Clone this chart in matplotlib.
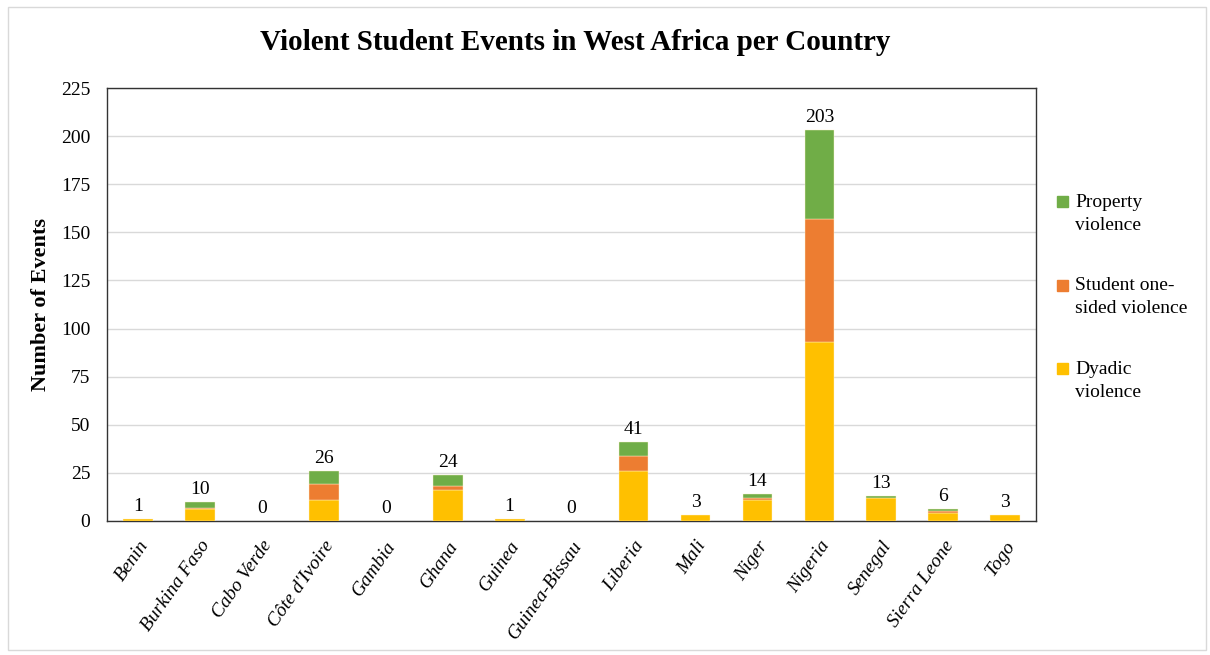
import matplotlib.pyplot as plt
from matplotlib.patches import Rectangle
import numpy as np

countries = ['Benin', 'Burkina Faso', 'Cabo Verde', "Côte d'Ivoire", 'Gambia', 'Ghana',
             'Guinea', 'Guinea-Bissau', 'Liberia', 'Mali', 'Niger', 'Nigeria',
             'Senegal', 'Sierra Leone', 'Togo']
dyadic = [1, 6, 0, 11, 0, 16, 1, 0, 26, 3, 11, 93, 12, 4, 3]
one_sided = [0, 1, 0, 8, 0, 2, 0, 0, 8, 0, 1, 64, 0, 1, 0]
property_v = [0, 3, 0, 7, 0, 6, 0, 0, 7, 0, 2, 46, 1, 1, 0]

series = [
    ('Dyadic\nviolence', dyadic, '#FFC000'),
    ('Student one-\nsided violence', one_sided, '#ED7D31'),
    ('Property\nviolence', property_v, '#70AD47'),
]

plt.rcParams['font.family'] = ['Liberation Serif', 'DejaVu Serif']

fig = plt.figure(figsize=(12.1, 6.55), dpi=100)
ax = fig.add_axes([0.0884, 0.2046, 0.768, 0.661])

x = np.arange(len(countries))
bottom = np.zeros(len(countries))
handles = []
for label, vals, color in series:
    vals = np.array(vals)
    b = ax.bar(x, vals, width=0.48, bottom=bottom, color=color, label=label,
               edgecolor='#FFF2CC', linewidth=np.where(vals > 0, 0.3, 0), zorder=3)
    handles.append(b)
    bottom += vals

totals = bottom.astype(int)
ax.bar_label(handles[-1], labels=[str(t) for t in totals], padding=3, fontsize=14)

ax.set_xlim(-0.5, len(countries) - 0.5)
ax.set_ylim(0, 225)
ax.set_yticks(np.arange(0, 226, 25))
ax.set_xticks(x)
ax.set_xticklabels(countries, rotation=55, ha='right', rotation_mode='anchor',
                   fontstyle='italic', fontsize=14)
ax.tick_params(axis='both', length=0, labelsize=14)
ax.tick_params(axis='y', pad=12)
ax.tick_params(axis='x', pad=12)
ax.grid(axis='y', color='#D9D9D9', linewidth=1, zorder=0)
for s in ax.spines.values():
    s.set_color('#333333')
    s.set_linewidth(1)

ax.set_ylabel('Number of Events', fontsize=16, fontweight='bold', labelpad=7)
fig.suptitle('Violent Student Events in West Africa per Country', x=0.475, y=0.955,
             fontsize=21, fontweight='bold')

# legend drawn by hand so the square sits by the first text line
for i, (label, vals, color) in enumerate(series[::-1]):
    ytop = 201 + i * 83.5
    fig.patches.append(Rectangle((1057 / 1210, 1 - (ytop + 6) / 655), 11 / 1210, 11 / 655,
                                 transform=fig.transFigure, color=color))
    fig.text(1075 / 1210, 1 - (ytop - 7) / 655, label, fontsize=14, va='top', ha='left',
             linespacing=1.45)

fig.patches.append(Rectangle((0.007, 0.008), 0.99, 0.982, transform=fig.transFigure,
                             fill=False, edgecolor='#D9D9D9', linewidth=1))

fig.savefig('out.png', dpi=100)
